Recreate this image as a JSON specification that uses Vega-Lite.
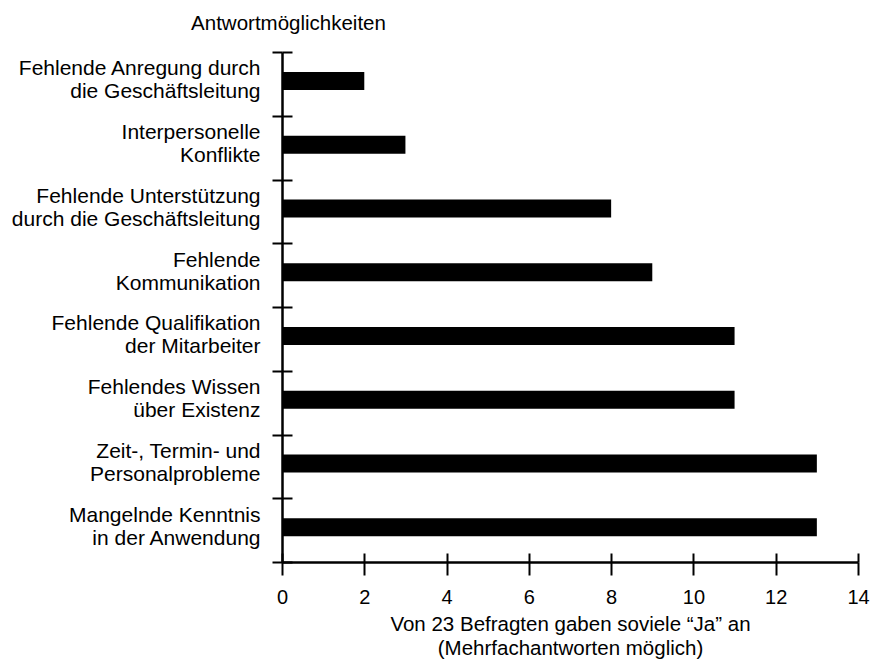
{
  "$schema": "https://vega.github.io/schema/vega-lite/v6.json",
  "autosize": "none",
  "width": 576,
  "height": 510,
  "padding": {"left": 282, "top": 52, "right": 15, "bottom": 99},
  "background": "white",
  "config": {"view": {"stroke": null}, "font": "Liberation Sans"},
  "data": {
    "values": [
      {"label": "Fehlende Anregung durch|die Geschäftsleitung", "ja": 2},
      {"label": "Interpersonelle|Konflikte", "ja": 3},
      {"label": "Fehlende Unterstützung|durch die Geschäftsleitung", "ja": 8},
      {"label": "Fehlende|Kommunikation", "ja": 9},
      {"label": "Fehlende Qualifikation|der Mitarbeiter", "ja": 11},
      {"label": "Fehlendes Wissen|über Existenz", "ja": 11},
      {"label": "Zeit-, Termin- und|Personalprobleme", "ja": 13},
      {"label": "Mangelnde Kenntnis|in der Anwendung", "ja": 13}
    ]
  },
  "layer": [
    {
      "mark": {"type": "bar", "size": 18, "color": "black", "yOffset": -3},
      "encoding": {
        "y": {
          "field": "label", "type": "nominal", "sort": null,
          "scale": {"paddingInner": 0, "paddingOuter": 0},
          "axis": {
            "title": "Antwortmöglichkeiten", "titleAngle": 0, "titleAlign": "center",
            "titleBaseline": "alphabetic", "titleX": 6, "titleY": -23,
            "titleFontSize": 20.5, "titleFontWeight": "normal", "titleColor": "black",
            "labelExpr": "isValid(datum.value) ? split(datum.value, '|') : ''", "labelFontSize": 21, "labelColor": "black",
            "labelLineHeight": 23, "labelPadding": 12, "labelOffset": -15, "labelLimit": 400,
            "tickBand": "extent", "tickSize": 10, "tickColor": "black", "tickWidth": 2,
            "domainColor": "black", "domainWidth": 2.5, "grid": false
          }
        },
        "x": {
          "field": "ja", "type": "quantitative",
          "scale": {"domain": [0, 14], "nice": false},
          "axis": {
            "values": [0, 2, 4, 6, 8, 10, 12, 14], "tickSize": 13, "tickColor": "black", "tickWidth": 2,
            "domainColor": "black", "domainWidth": 2.5, "grid": false,
            "labelFontSize": 20, "labelColor": "black", "labelPadding": 12, "labelFlush": false, "labelOverlap": false,
            "title": ["Von 23 Befragten gaben soviele “Ja” an", "(Mehrfachantworten möglich)"],
            "titleFontSize": 20.5, "titleFontWeight": "normal", "titleColor": "black",
            "titleLineHeight": 24, "titlePadding": 7
          }
        }
      }
    },
    {
      "mark": {"type": "bar", "size": 18, "color": "black", "opacity": 0},
      "encoding": {
        "y": {
          "field": "label", "type": "nominal", "sort": null,
          "scale": {"paddingInner": 0, "paddingOuter": 0},
          "axis": {
            "orient": "left", "offset": -10, "tickSize": 10, "tickBand": "extent",
            "labels": false, "domain": false, "title": null, "grid": false,
            "tickColor": "black", "tickWidth": 2
          }
        },
        "x": {
          "field": "ja", "type": "quantitative",
          "scale": {"domain": [0, 14], "nice": false},
          "axis": {
            "orient": "bottom", "offset": -9, "tickSize": 9, "values": [0, 2, 4, 6, 8, 10, 12, 14],
            "labels": false, "domain": false, "title": null, "grid": false,
            "tickColor": "black", "tickWidth": 2
          }
        }
      }
    }
  ],
  "resolve": {"axis": {"x": "independent", "y": "independent"}}
}
